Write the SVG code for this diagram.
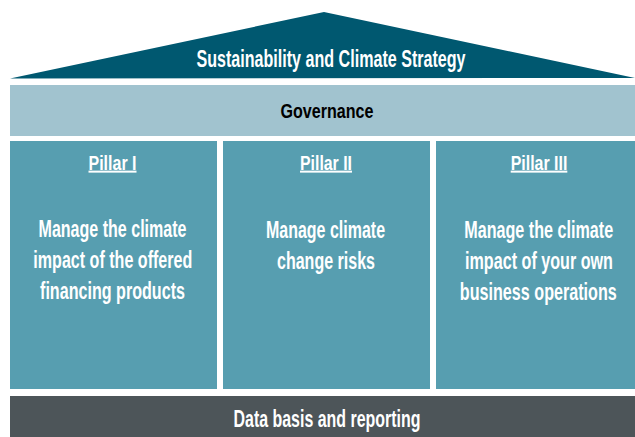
<svg xmlns="http://www.w3.org/2000/svg" width="635" height="437" viewBox="0 0 635 437">
<style>
text{font-family:"Liberation Sans",Arial,sans-serif;font-weight:bold;text-anchor:middle;fill:#fff}
.t{font-size:23px}
.g{font-size:20px;fill:#000}
.h{font-size:20px;text-decoration:underline}
.b{font-size:23px}
.pillar{fill:#579eb0}
</style>
<rect width="635" height="437" fill="#fff"/>
<g id="roof">
<polygon points="10,78.5 324,12 635,78" fill="#005870"/>
<text class="t" transform="translate(331 67) scale(0.75 1)" textLength="358.7" lengthAdjust="spacingAndGlyphs">Sustainability and Climate Strategy</text>
</g>
<g id="governance">
<rect x="10" y="85" width="625" height="51" fill="#a1c3cf"/>
<text class="g" transform="translate(327 117.5) scale(0.75 1)" textLength="124" lengthAdjust="spacingAndGlyphs">Governance</text>
</g>
<g id="pillar1">
<rect class="pillar" x="10" y="141" width="207" height="248"/>
<text class="h" transform="translate(112.5 169.5) scale(0.75 1)" textLength="64" lengthAdjust="spacingAndGlyphs">Pillar I</text>
<text class="b" transform="translate(112.5 237) scale(0.75 1)" textLength="197.3" lengthAdjust="spacingAndGlyphs">Manage the climate</text>
<text class="b" transform="translate(112.8 268) scale(0.75 1)" textLength="212" lengthAdjust="spacingAndGlyphs">impact of the offered</text>
<text class="b" transform="translate(112.5 299) scale(0.75 1)" textLength="193.3" lengthAdjust="spacingAndGlyphs">financing products</text>
</g>
<g id="pillar2">
<rect class="pillar" x="223" y="141" width="207" height="248"/>
<text class="h" transform="translate(326 169.5) scale(0.75 1)" textLength="69.3" lengthAdjust="spacingAndGlyphs">Pillar II</text>
<text class="b" transform="translate(325.5 237.5) scale(0.75 1)" textLength="158.7" lengthAdjust="spacingAndGlyphs">Manage climate</text>
<text class="b" transform="translate(326 268.5) scale(0.75 1)" textLength="130.7" lengthAdjust="spacingAndGlyphs">change risks</text>
</g>
<g id="pillar3">
<rect class="pillar" x="436" y="141" width="199" height="248"/>
<text class="h" transform="translate(539 169.5) scale(0.75 1)" textLength="75.5" lengthAdjust="spacingAndGlyphs">Pillar III</text>
<text class="b" transform="translate(538.7 238) scale(0.75 1)" textLength="198.7" lengthAdjust="spacingAndGlyphs">Manage the climate</text>
<text class="b" transform="translate(539 268.5) scale(0.75 1)" textLength="197.3" lengthAdjust="spacingAndGlyphs">impact of your own</text>
<text class="b" transform="translate(538.3 299.5) scale(0.75 1)" textLength="209.3" lengthAdjust="spacingAndGlyphs">business operations</text>
</g>
<g id="data">
<rect x="10" y="396" width="625" height="41" fill="#4d5559"/>
<text class="t" transform="translate(327 427) scale(0.75 1)" textLength="249.3" lengthAdjust="spacingAndGlyphs">Data basis and reporting</text>
</g>
<g id="connectors"></g>
</svg>
